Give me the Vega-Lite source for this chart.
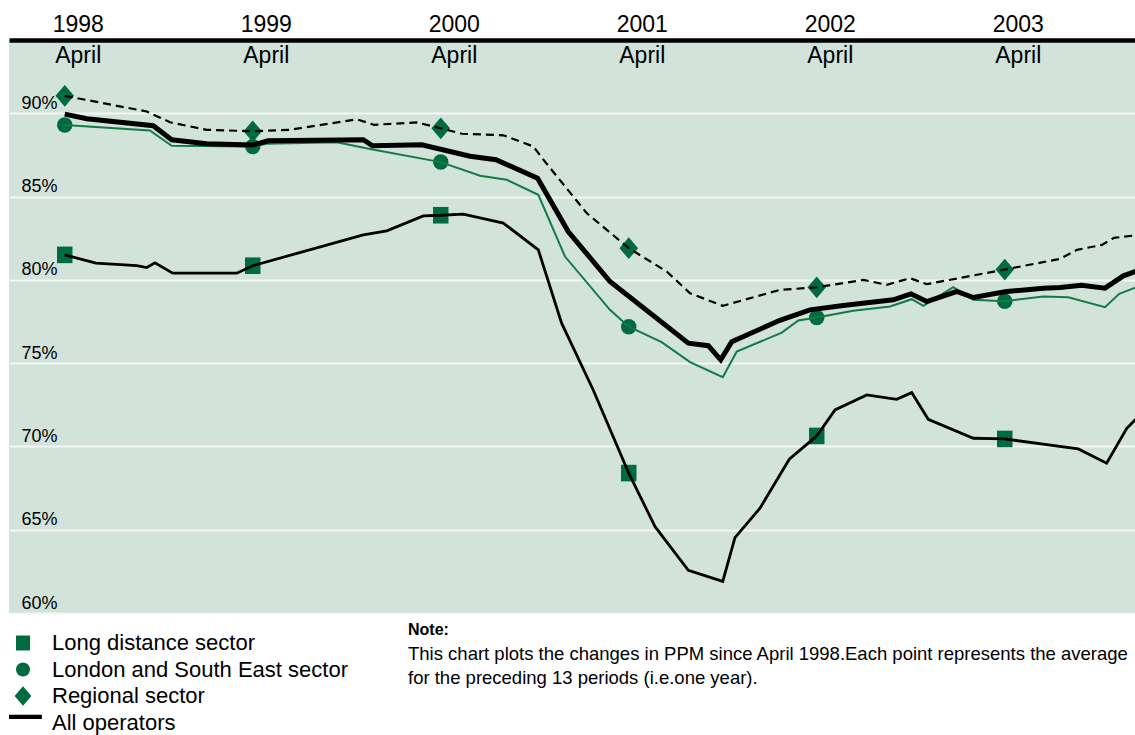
{
  "$schema": "https://vega.github.io/schema/vega-lite/v6.json",
  "width": 1126,
  "height": 573,
  "autosize": "none",
  "padding": {"left": 9, "top": 40, "right": 0, "bottom": 122},
  "background": "#ffffff",
  "config": {
    "font": "Liberation Sans",
    "view": {"stroke": null, "fill": "#d2e3da"}
  },
  "title": {
    "text": "Note:",
    "subtitle": ["This chart plots the changes in PPM since April 1998.Each point represents the average", "for the preceding 13 periods (i.e.one year)."],
    "orient": "bottom",
    "anchor": "start",
    "frame": "group",
    "offset": -112.5,
    "dx": 399,
    "font": "Liberation Sans",
    "fontSize": 16,
    "fontWeight": "bold",
    "color": "#000000",
    "subtitleFont": "Liberation Sans",
    "subtitleFontSize": 18.5,
    "subtitleColor": "#000000",
    "subtitleLineHeight": 24,
    "subtitlePadding": 7
  },
  "data": {
    "values": [
      {"s": "Long distance sector", "t": 1998.000, "v": 81.50},
      {"s": "Long distance sector", "t": 1998.166, "v": 81.00},
      {"s": "Long distance sector", "t": 1998.383, "v": 80.86},
      {"s": "Long distance sector", "t": 1998.436, "v": 80.74},
      {"s": "Long distance sector", "t": 1998.480, "v": 81.02},
      {"s": "Long distance sector", "t": 1998.574, "v": 80.40},
      {"s": "Long distance sector", "t": 1998.915, "v": 80.40},
      {"s": "Long distance sector", "t": 1999.000, "v": 80.85},
      {"s": "Long distance sector", "t": 1999.588, "v": 82.70},
      {"s": "Long distance sector", "t": 1999.713, "v": 82.94},
      {"s": "Long distance sector", "t": 1999.907, "v": 83.84},
      {"s": "Long distance sector", "t": 2000.000, "v": 83.88},
      {"s": "Long distance sector", "t": 2000.120, "v": 83.95},
      {"s": "Long distance sector", "t": 2000.333, "v": 83.41},
      {"s": "Long distance sector", "t": 2000.519, "v": 81.80},
      {"s": "Long distance sector", "t": 2000.643, "v": 77.40},
      {"s": "Long distance sector", "t": 2000.811, "v": 73.39},
      {"s": "Long distance sector", "t": 2001.000, "v": 68.40},
      {"s": "Long distance sector", "t": 2001.140, "v": 65.18},
      {"s": "Long distance sector", "t": 2001.317, "v": 62.56},
      {"s": "Long distance sector", "t": 2001.500, "v": 61.90},
      {"s": "Long distance sector", "t": 2001.565, "v": 64.52},
      {"s": "Long distance sector", "t": 2001.698, "v": 66.29},
      {"s": "Long distance sector", "t": 2001.854, "v": 69.23},
      {"s": "Long distance sector", "t": 2002.000, "v": 70.63},
      {"s": "Long distance sector", "t": 2002.097, "v": 72.19},
      {"s": "Long distance sector", "t": 2002.266, "v": 73.09},
      {"s": "Long distance sector", "t": 2002.425, "v": 72.83},
      {"s": "Long distance sector", "t": 2002.505, "v": 73.23},
      {"s": "Long distance sector", "t": 2002.593, "v": 71.63},
      {"s": "Long distance sector", "t": 2002.833, "v": 70.49},
      {"s": "Long distance sector", "t": 2003.000, "v": 70.45},
      {"s": "Long distance sector", "t": 2003.391, "v": 69.85},
      {"s": "Long distance sector", "t": 2003.542, "v": 68.99},
      {"s": "Long distance sector", "t": 2003.649, "v": 71.09},
      {"s": "Long distance sector", "t": 2003.719, "v": 71.89},

      {"s": "London and South East sector", "t": 1998.000, "v": 89.30},
      {"s": "London and South East sector", "t": 1998.453, "v": 88.97},
      {"s": "London and South East sector", "t": 1998.569, "v": 88.05},
      {"s": "London and South East sector", "t": 1999.000, "v": 88.00},
      {"s": "London and South East sector", "t": 1999.074, "v": 88.17},
      {"s": "London and South East sector", "t": 1999.447, "v": 88.26},
      {"s": "London and South East sector", "t": 1999.624, "v": 87.85},
      {"s": "London and South East sector", "t": 2000.000, "v": 87.07},
      {"s": "London and South East sector", "t": 2000.209, "v": 86.25},
      {"s": "London and South East sector", "t": 2000.351, "v": 86.01},
      {"s": "London and South East sector", "t": 2000.519, "v": 85.11},
      {"s": "London and South East sector", "t": 2000.661, "v": 81.40},
      {"s": "London and South East sector", "t": 2000.900, "v": 78.20},
      {"s": "London and South East sector", "t": 2001.000, "v": 77.19},
      {"s": "London and South East sector", "t": 2001.175, "v": 76.26},
      {"s": "London and South East sector", "t": 2001.326, "v": 75.06},
      {"s": "London and South East sector", "t": 2001.500, "v": 74.16},
      {"s": "London and South East sector", "t": 2001.574, "v": 75.69},
      {"s": "London and South East sector", "t": 2001.814, "v": 76.83},
      {"s": "London and South East sector", "t": 2001.902, "v": 77.56},
      {"s": "London and South East sector", "t": 2002.000, "v": 77.74},
      {"s": "London and South East sector", "t": 2002.194, "v": 78.14},
      {"s": "London and South East sector", "t": 2002.390, "v": 78.40},
      {"s": "London and South East sector", "t": 2002.505, "v": 78.84},
      {"s": "London and South East sector", "t": 2002.567, "v": 78.44},
      {"s": "London and South East sector", "t": 2002.726, "v": 79.56},
      {"s": "London and South East sector", "t": 2002.833, "v": 78.80},
      {"s": "London and South East sector", "t": 2003.000, "v": 78.72},
      {"s": "London and South East sector", "t": 2003.205, "v": 79.00},
      {"s": "London and South East sector", "t": 2003.338, "v": 78.96},
      {"s": "London and South East sector", "t": 2003.533, "v": 78.36},
      {"s": "London and South East sector", "t": 2003.609, "v": 79.16},
      {"s": "London and South East sector", "t": 2003.719, "v": 79.64},

      {"s": "Regional sector", "t": 1998.000, "v": 91.05},
      {"s": "Regional sector", "t": 1998.436, "v": 90.11},
      {"s": "Regional sector", "t": 1998.560, "v": 89.46},
      {"s": "Regional sector", "t": 1998.755, "v": 89.01},
      {"s": "Regional sector", "t": 1999.000, "v": 88.92},
      {"s": "Regional sector", "t": 1999.198, "v": 89.01},
      {"s": "Regional sector", "t": 1999.553, "v": 89.64},
      {"s": "Regional sector", "t": 1999.645, "v": 89.31},
      {"s": "Regional sector", "t": 1999.872, "v": 89.45},
      {"s": "Regional sector", "t": 2000.000, "v": 89.10},
      {"s": "Regional sector", "t": 2000.113, "v": 88.77},
      {"s": "Regional sector", "t": 2000.333, "v": 88.68},
      {"s": "Regional sector", "t": 2000.492, "v": 88.01},
      {"s": "Regional sector", "t": 2000.555, "v": 87.09},
      {"s": "Regional sector", "t": 2000.776, "v": 84.01},
      {"s": "Regional sector", "t": 2001.000, "v": 81.90},
      {"s": "Regional sector", "t": 2001.202, "v": 80.50},
      {"s": "Regional sector", "t": 2001.326, "v": 79.20},
      {"s": "Regional sector", "t": 2001.500, "v": 78.44},
      {"s": "Regional sector", "t": 2001.804, "v": 79.40},
      {"s": "Regional sector", "t": 2002.000, "v": 79.55},
      {"s": "Regional sector", "t": 2002.248, "v": 80.00},
      {"s": "Regional sector", "t": 2002.372, "v": 79.70},
      {"s": "Regional sector", "t": 2002.496, "v": 80.10},
      {"s": "Regional sector", "t": 2002.585, "v": 79.74},
      {"s": "Regional sector", "t": 2003.000, "v": 80.62},
      {"s": "Regional sector", "t": 2003.294, "v": 81.26},
      {"s": "Regional sector", "t": 2003.384, "v": 81.80},
      {"s": "Regional sector", "t": 2003.517, "v": 82.10},
      {"s": "Regional sector", "t": 2003.581, "v": 82.52},
      {"s": "Regional sector", "t": 2003.719, "v": 82.70},

      {"s": "All operators", "t": 1998.000, "v": 89.95},
      {"s": "All operators", "t": 1998.117, "v": 89.67},
      {"s": "All operators", "t": 1998.471, "v": 89.25},
      {"s": "All operators", "t": 1998.569, "v": 88.41},
      {"s": "All operators", "t": 1998.755, "v": 88.17},
      {"s": "All operators", "t": 1999.000, "v": 88.09},
      {"s": "All operators", "t": 1999.081, "v": 88.35},
      {"s": "All operators", "t": 1999.588, "v": 88.41},
      {"s": "All operators", "t": 1999.637, "v": 88.05},
      {"s": "All operators", "t": 1999.899, "v": 88.11},
      {"s": "All operators", "t": 2000.156, "v": 87.42},
      {"s": "All operators", "t": 2000.294, "v": 87.21},
      {"s": "All operators", "t": 2000.515, "v": 86.10},
      {"s": "All operators", "t": 2000.678, "v": 82.90},
      {"s": "All operators", "t": 2000.900, "v": 79.90},
      {"s": "All operators", "t": 2001.317, "v": 76.20},
      {"s": "All operators", "t": 2001.423, "v": 76.05},
      {"s": "All operators", "t": 2001.489, "v": 75.20},
      {"s": "All operators", "t": 2001.548, "v": 76.29},
      {"s": "All operators", "t": 2001.804, "v": 77.57},
      {"s": "All operators", "t": 2001.964, "v": 78.20},
      {"s": "All operators", "t": 2002.141, "v": 78.46},
      {"s": "All operators", "t": 2002.407, "v": 78.80},
      {"s": "All operators", "t": 2002.501, "v": 79.16},
      {"s": "All operators", "t": 2002.585, "v": 78.70},
      {"s": "All operators", "t": 2002.744, "v": 79.30},
      {"s": "All operators", "t": 2002.833, "v": 78.94},
      {"s": "All operators", "t": 2003.010, "v": 79.30},
      {"s": "All operators", "t": 2003.205, "v": 79.50},
      {"s": "All operators", "t": 2003.294, "v": 79.54},
      {"s": "All operators", "t": 2003.409, "v": 79.68},
      {"s": "All operators", "t": 2003.533, "v": 79.50},
      {"s": "All operators", "t": 2003.631, "v": 80.24},
      {"s": "All operators", "t": 2003.719, "v": 80.60}
    ]
  },
  "encoding": {
    "x": {
      "field": "t",
      "type": "quantitative",
      "scale": {"domain": [1997.7035, 2003.6928], "nice": false, "zero": false},
      "axis": {
        "orient": "top",
        "title": null,
        "values": [1998, 1999, 2000, 2001, 2002, 2003],
        "labelExpr": "[format(datum.value, 'd'), 'April']",
        "labelFont": "Liberation Sans",
        "labelFontSize": 23,
        "labelLineHeight": 31,
        "labelColor": "#000000",
        "labelBaseline": "alphabetic",
        "labelAlign": "center",
        "labelPadding": 8.3,
        "labelOffset": 13,
        "labelOverlap": false,
        "labelFlush": false,
        "ticks": false,
        "tickSize": 0,
        "grid": false,
        "domain": true,
        "domainColor": "#000000",
        "domainWidth": 4.5
      }
    },
    "y": {
      "field": "v",
      "type": "quantitative",
      "scale": {"domain": [60, 94.4], "nice": false, "zero": false},
      "axis": {
        "orient": "left",
        "title": null,
        "values": [60, 65, 70, 75, 80, 85, 90],
        "labelExpr": "datum.value + '%'",
        "labelFont": "Liberation Sans",
        "labelFontSize": 18,
        "labelColor": "#000000",
        "labelAlign": "left",
        "labelBaseline": "alphabetic",
        "labelPadding": -12,
        "labelOffset": -5,
        "labelOverlap": false,
        "labelFlush": false,
        "ticks": false,
        "tickSize": 0,
        "domain": false,
        "grid": true,
        "gridColor": "#f4f8f6",
        "gridWidth": 2
      }
    }
  },
  "layer": [
    {
      "transform": [{"filter": "datum.s != 'All operators' && datum.t == floor(datum.t)"}],
      "mark": {"type": "point", "filled": true, "opacity": 1, "size": 240, "strokeWidth": 0},
      "encoding": {
        "color": {
          "field": "s",
          "type": "nominal",
          "scale": {
            "domain": ["Long distance sector", "London and South East sector", "Regional sector", "All operators"],
            "range": ["#006b3f", "#006b3f", "#006b3f", "#000000"]
          },
          "legend": {
            "title": null,
            "orient": "none",
            "legendX": 3,
            "legendY": 592,
            "direction": "vertical",
            "padding": 0,
            "labelFont": "Liberation Sans",
            "labelFontSize": 22,
            "labelColor": "#000000",
            "labelOffset": 18,
            "labelLimit": 600,
            "rowPadding": 4.5,
            "symbolSize": 196,
            "symbolStrokeWidth": 0,
            "symbolOpacity": 1
          }
        },
        "shape": {
          "field": "s",
          "type": "nominal",
          "scale": {
            "domain": ["Long distance sector", "London and South East sector", "Regional sector", "All operators"],
            "range": ["M-1,-1.07H1V1.07H-1Z", "circle", "M0,-1.4L1.2,0L0,1.4L-1.2,0Z", "M-2.0,-1.1H2.7V-0.5H-2.0Z"]
          },
          "legend": {
            "title": null,
            "orient": "none",
            "legendX": 3,
            "legendY": 592,
            "direction": "vertical",
            "padding": 0,
            "labelFont": "Liberation Sans",
            "labelFontSize": 22,
            "labelColor": "#000000",
            "labelOffset": 18,
            "labelLimit": 600,
            "rowPadding": 4.5,
            "symbolSize": 196,
            "symbolStrokeWidth": 0,
            "symbolOpacity": 1
          }
        }
      }
    },
    {
      "transform": [{"filter": "datum.s == 'London and South East sector'"}],
      "mark": {"type": "line", "color": "#137a48", "strokeWidth": 2, "clip": true},
      "encoding": {}
    },
    {
      "transform": [{"filter": "datum.s == 'Long distance sector'"}],
      "mark": {"type": "line", "color": "#000000", "strokeWidth": 2.8, "clip": true},
      "encoding": {}
    },
    {
      "transform": [{"filter": "datum.s == 'All operators'"}],
      "mark": {"type": "line", "color": "#000000", "strokeWidth": 5, "clip": true},
      "encoding": {}
    },
    {
      "transform": [{"filter": "datum.s == 'Regional sector'"}],
      "mark": {"type": "line", "color": "#000000", "strokeWidth": 2.2, "strokeDash": [8, 5], "clip": true},
      "encoding": {}
    }
  ]
}
